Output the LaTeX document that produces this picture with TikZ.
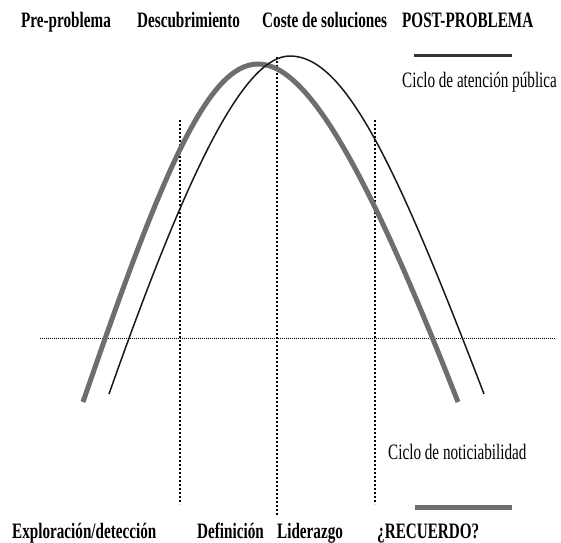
\documentclass[tikz,border=0pt]{standalone}
\usepackage{fontspec}
\setmainfont[FakeStretch=0.69]{Liberation Serif}
\begin{document}
\begin{tikzpicture}[x=1pt,y=-1pt,
    stage/.style={font=\fontsize{22}{24}\selectfont\bfseries,anchor=base west,inner sep=0pt},
    legtext/.style={font=\fontsize{22}{24}\selectfont,anchor=base west,inner sep=0pt},
    newscycle/.style={line width=5pt,black!57},
    publiccycle/.style={line width=1.5pt,black!90},
    phase/.style={line width=2.5pt,dash pattern=on 2pt off 2pt}]
  \useasboundingbox (0,0) rectangle (561,542);
  % phases
  \node [stage] (pre) at (21,27) {Pre-problema};
  \node [stage] (desc) at (137,27) {Descubrimiento};
  \node [stage] (coste) at (262,27) {Coste de soluciones};
  \node [stage] (post) at (402,27) {POST-PROBLEMA};
  \node [stage] (expl) at (12,538) {Exploración/detección};
  \node [stage] (defi) at (197,538) {Definición};
  \node [stage] (lider) at (277,538) {Liderazgo};
  \node [stage] (recu) at (377,538) {¿RECUERDO?};
  % guides
  \draw [line width=1pt,dash pattern=on 1pt off 1pt] (40,338) -- (555,338);
  \draw [phase] (180,120) -- (180,504);
  \draw [phase,line width=2pt] (277,57) -- (277,515);
  \draw [phase] (375,120) -- (375,504);
  % cycles
  \draw [newscycle] (83,402) .. controls (162,172) and (208,64) .. (258,64)
        .. controls (308,64) and (368,172) .. (458,402);
  \draw [publiccycle] (109,394) .. controls (190,164) and (245,56) .. (290,56)
        .. controls (345,56) and (396,164) .. (484,394);
  % legend
  \coordinate (pa) at (414,55.5);
  \coordinate (pb) at (512,55.5);
  \draw [line width=2.3pt,black!80] (pa) -- (pb);
  \node [legtext] (publ) at (402,87) {Ciclo de atención pública};
  \coordinate (na) at (415,507);
  \coordinate (nb) at (512,507);
  \draw [newscycle] (na) -- (nb);
  \node [legtext] (noti) at (388,459) {Ciclo de noticiabilidad};
\end{tikzpicture}
\end{document}
